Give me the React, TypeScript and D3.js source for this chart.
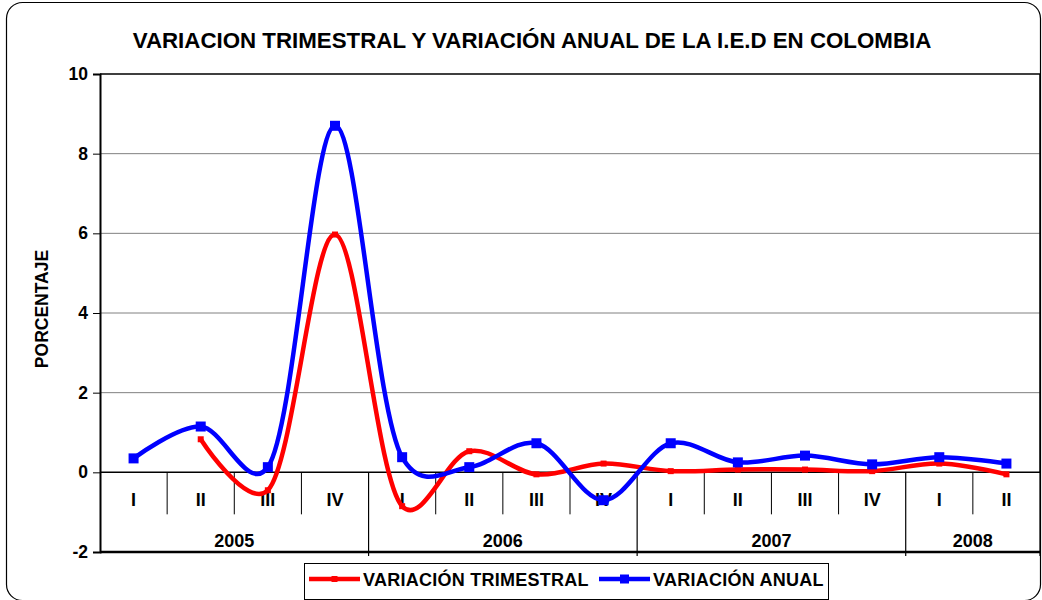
import React, { useEffect, useRef } from 'react';
import * as d3 from 'd3';

const quarters = ['I', 'II', 'III', 'IV', 'I', 'II', 'III', 'IV', 'I', 'II', 'III', 'IV', 'I', 'II'];
const years = ['2005', '2006', '2007', '2008'];
const quartersPerYear = [4, 4, 4, 2];
const trimestral = [null, 0.83, -0.45, 5.97, -0.85, 0.53, -0.05, 0.22, 0.03, 0.07, 0.07, 0.03, 0.22, -0.05];
const anual = [0.35, 1.15, 0.13, 8.7, 0.38, 0.13, 0.73, -0.7, 0.73, 0.25, 0.42, 0.2, 0.38, 0.22];
const yTicks = [-2, 0, 2, 4, 6, 8, 10];

const FONT = '"Liberation Sans", Arial, sans-serif';

const App = () => {
    const svgRef = useRef(null);

    useEffect(() => {
        const svg = d3.select(svgRef.current);
        svg.selectAll('*').remove();

        const W = 1042, H = 600;
        const left = 100, right = 1040, top = 74, bottom = 552;

        svg.attr('width', W).attr('height', H).style('font-family', FONT);

        // outer frame
        svg.append('rect')
            .attr('x', 6.5).attr('y', 2.5)
            .attr('width', 1034).attr('height', 598)
            .attr('rx', 16)
            .attr('fill', 'white')
            .attr('stroke', '#000').attr('stroke-width', 1.2);

        // title
        svg.append('text')
            .attr('x', 532).attr('y', 48)
            .attr('text-anchor', 'middle')
            .style('font-size', '22.3px').style('font-weight', 'bold')
            .text('VARIACION TRIMESTRAL Y VARIACIÓN ANUAL DE LA I.E.D EN COLOMBIA');

        const x = d3.scaleBand().domain(quarters.map((_, i) => i)).range([left, right]).padding(0);
        const cx = i => x(i) + x.bandwidth() / 2;
        const y = d3.scaleLinear().domain([-2, 10]).range([bottom, top]);

        // gridlines
        svg.append('g').selectAll('line')
            .data(yTicks.filter(v => v > 0 && v < 10))
            .enter().append('line')
            .attr('x1', left).attr('x2', right)
            .attr('y1', d => y(d)).attr('y2', d => y(d))
            .attr('stroke', '#808080').attr('stroke-width', 1);

        // plot border top / right
        svg.append('path')
            .attr('d', `M${left},${y(10)}H${right}V${y(0)}`)
            .attr('fill', 'none').attr('stroke', '#000').attr('stroke-width', 1.5);

        // y axis
        const yAxis = svg.append('g')
            .attr('transform', `translate(${left},0)`)
            .call(d3.axisLeft(y).tickValues(yTicks).tickSize(7).tickPadding(5).tickFormat(d => String(d)));
        yAxis.select('.domain').attr('stroke', '#000').attr('stroke-width', 2);
        yAxis.selectAll('.tick line').attr('stroke', '#000').attr('stroke-width', 1);
        yAxis.selectAll('text')
            .style('font-size', '17.5px').style('font-weight', 'bold')
            .style('font-family', FONT).attr('fill', '#000');

        // y label
        svg.append('text')
            .attr('transform', `translate(48,${309}) rotate(-90)`)
            .attr('text-anchor', 'middle')
            .style('font-size', '17.5px').style('font-weight', 'bold')
            .text('PORCENTAJE');

        // category axis (at zero) and bottom line
        svg.append('line')
            .attr('x1', left).attr('x2', right)
            .attr('y1', y(0)).attr('y2', y(0))
            .attr('stroke', '#000').attr('stroke-width', 1.5);
        svg.append('line')
            .attr('x1', left).attr('x2', right)
            .attr('y1', y(-2)).attr('y2', y(-2))
            .attr('stroke', '#000').attr('stroke-width', 2.5);

        // quarter separators
        const yearStart = [];
        let acc = 0;
        quartersPerYear.forEach(n => { yearStart.push(acc); acc += n; });

        svg.append('g').selectAll('line')
            .data(d3.range(1, quarters.length).filter(i => !yearStart.includes(i)))
            .enter().append('line')
            .attr('x1', i => x(i)).attr('x2', i => x(i))
            .attr('y1', y(0)).attr('y2', y(0) + 42)
            .attr('stroke', '#000').attr('stroke-width', 1);

        // year separators
        svg.append('g').selectAll('line')
            .data([...yearStart.slice(1), quarters.length])
            .enter().append('line')
            .attr('x1', i => i === quarters.length ? right : x(i))
            .attr('x2', i => i === quarters.length ? right : x(i))
            .attr('y1', y(0)).attr('y2', y(-2) + 4)
            .attr('stroke', '#000').attr('stroke-width', 1.2);

        // quarter labels
        svg.append('g').selectAll('text')
            .data(quarters)
            .enter().append('text')
            .attr('x', (_, i) => cx(i)).attr('y', 506)
            .attr('text-anchor', 'middle')
            .style('font-size', '18px').style('font-weight', 'bold')
            .text(d => d);

        // year labels
        svg.append('g').selectAll('text')
            .data(years)
            .enter().append('text')
            .attr('x', (_, i) => {
                const s = yearStart[i];
                const e = s + quartersPerYear[i];
                return (x(s) + (e === quarters.length ? right : x(e))) / 2;
            })
            .attr('y', 547)
            .attr('text-anchor', 'middle')
            .style('font-size', '18px').style('font-weight', 'bold')
            .text(d => d);

        // lines
        const line = d3.line()
            .defined(d => d != null)
            .x((_, i) => cx(i))
            .y(d => y(d))
            .curve(d3.curveCatmullRom.alpha(0.2));

        svg.append('path')
            .datum(trimestral)
            .attr('d', line)
            .attr('fill', 'none').attr('stroke', '#ff0000').attr('stroke-width', 4.5)
            .attr('stroke-linejoin', 'round');

        svg.append('path')
            .datum(anual)
            .attr('d', line)
            .attr('fill', 'none').attr('stroke', '#0000ff').attr('stroke-width', 4.5)
            .attr('stroke-linejoin', 'round');

        svg.append('g').selectAll('rect')
            .data(trimestral.map((v, i) => ({ v, i })).filter(d => d.v != null))
            .enter().append('rect')
            .attr('x', d => cx(d.i) - 3).attr('y', d => y(d.v) - 3)
            .attr('width', 6).attr('height', 6)
            .attr('fill', '#ff0000');

        svg.append('g').selectAll('rect')
            .data(anual.map((v, i) => ({ v, i })))
            .enter().append('rect')
            .attr('x', d => cx(d.i) - 5).attr('y', d => y(d.v) - 5)
            .attr('width', 10).attr('height', 10)
            .attr('fill', '#0000ff');

        // legend
        const lg = svg.append('g');
        lg.append('rect')
            .attr('x', 304.5).attr('y', 563.5)
            .attr('width', 524).attr('height', 36)
            .attr('fill', 'white').attr('stroke', '#000').attr('stroke-width', 1);

        const items = [
            { label: 'VARIACIÓN TRIMESTRAL', color: '#ff0000', x0: 309, m: 6 },
            { label: 'VARIACIÓN ANUAL', color: '#0000ff', x0: 599, m: 9 },
        ];
        items.forEach(it => {
            lg.append('line')
                .attr('x1', it.x0).attr('x2', it.x0 + 51)
                .attr('y1', 579).attr('y2', 579)
                .attr('stroke', it.color).attr('stroke-width', 4.5);
            lg.append('rect')
                .attr('x', it.x0 + 25.5 - it.m / 2).attr('y', 579 - it.m / 2)
                .attr('width', it.m).attr('height', it.m)
                .attr('fill', it.color);
            lg.append('text')
                .attr('x', it.x0 + 54).attr('y', 586)
                .style('font-size', '18px').style('font-weight', 'bold')
                .style('letter-spacing', '0.25px')
                .text(it.label);
        });
    }, []);

    return (
        <div style={{ position: 'absolute', left: 0, top: 0 }}>
            <svg ref={svgRef} style={{ display: 'block' }}></svg>
        </div>
    );
};

export default App;
